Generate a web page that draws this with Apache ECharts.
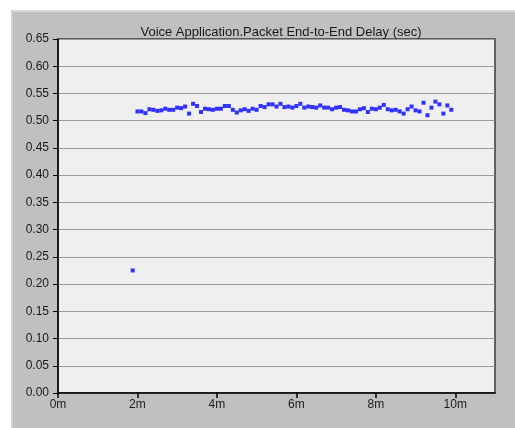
<!DOCTYPE html>
<html>
<head>
<meta charset="utf-8">
<style>
  html, body { margin: 0; padding: 0; background: #ffffff; }
  #chart { width: 515px; height: 428px; }
</style>
<script src="https://cdn.jsdelivr.net/npm/echarts@6/dist/echarts.min.js"></script>
</head>
<body>
<div id="chart"></div>
<script>
// Simulation time (minutes) of each delay sample
const timeMin = [
  1.88,
  2.0, 2.1, 2.2, 2.3, 2.4, 2.5, 2.6, 2.7, 2.8, 2.9,
  3.0, 3.1, 3.2, 3.3, 3.4, 3.5, 3.6, 3.7, 3.8, 3.9,
  4.0, 4.1, 4.2, 4.3, 4.4, 4.5, 4.6, 4.7, 4.8, 4.9,
  5.0, 5.1, 5.2, 5.3, 5.4, 5.5, 5.6, 5.7, 5.8, 5.9,
  6.0, 6.1, 6.2, 6.3, 6.4, 6.5, 6.6, 6.7, 6.8, 6.9,
  7.0, 7.1, 7.2, 7.3, 7.4, 7.5, 7.6, 7.7, 7.8, 7.9,
  8.0, 8.1, 8.2, 8.3, 8.4, 8.5, 8.6, 8.7, 8.8, 8.9,
  9.0, 9.1, 9.2, 9.3, 9.4, 9.5, 9.6, 9.7, 9.8, 9.9
];

// Packet end-to-end delay (seconds)
const delaySec = [
  0.225,
  0.517, 0.517, 0.514, 0.521, 0.520, 0.518, 0.519, 0.522, 0.520, 0.520,
  0.524, 0.523, 0.526, 0.513, 0.531, 0.527, 0.516, 0.522, 0.521, 0.520,
  0.522, 0.522, 0.527, 0.527, 0.520, 0.515, 0.519, 0.521, 0.518, 0.522,
  0.520, 0.527, 0.525, 0.530, 0.530, 0.526, 0.531, 0.525, 0.526, 0.524,
  0.527, 0.531, 0.524, 0.526, 0.525, 0.524, 0.528, 0.524, 0.524, 0.521,
  0.524, 0.525, 0.520, 0.519, 0.517, 0.517, 0.521, 0.523, 0.516, 0.522,
  0.521, 0.524, 0.529, 0.521, 0.519, 0.520, 0.517, 0.513, 0.521, 0.526,
  0.519, 0.517, 0.533, 0.510, 0.524, 0.535, 0.530, 0.513, 0.528, 0.520
];

const xTicks = [0, 2, 4, 6, 8, 10];
const chartTitle = 'Voice Application.Packet End-to-End Delay (sec)';

const points = timeMin.map((t, i) => [t, delaySec[i]]);

const FONT = '"Liberation Sans", Arial, sans-serif';
const chart = echarts.init(document.getElementById('chart'), null, { renderer: 'canvas' });

chart.setOption({
  animation: false,
  backgroundColor: '#ffffff',
  graphic: [
    // grey window panel
    { type: 'rect', z: -10, shape: { x: 11, y: 10, width: 504, height: 418 },
      style: { fill: '#c0c0c0' } },
    { type: 'rect', z: -9, shape: { x: 11, y: 10, width: 504, height: 2 },
      style: { fill: '#d9d9d9' } },
    { type: 'rect', z: -9, shape: { x: 11, y: 10, width: 2, height: 418 },
      style: { fill: '#d0d0d0' } }
  ],
  title: {
    text: chartTitle,
    left: 276,
    textAlign: 'center',
    top: 21,
    textStyle: { fontFamily: FONT, fontSize: 13, fontWeight: 'normal', color: '#1a1a1a' }
  },
  grid: {
    left: 58, right: 20, top: 39, bottom: 35,
    show: true,
    backgroundColor: '#efefef',
    borderColor: '#3a3a3a',
    borderWidth: 1.5
  },
  xAxis: {
    type: 'value',
    min: 0, max: 11, interval: 2,
    axisLine: { show: true, onZero: false, lineStyle: { color: '#000000', width: 1.5 } },
    axisTick: { show: true, length: 5, customValues: xTicks,
      lineStyle: { color: '#000000', width: 1.5 } },
    axisLabel: { customValues: xTicks, formatter: v => v + 'm', margin: 6,
      fontFamily: FONT, fontSize: 12, color: '#1a1a1a' },
    splitLine: { show: false }
  },
  yAxis: {
    type: 'value',
    min: 0, max: 0.65, interval: 0.05,
    axisLine: { show: true, onZero: false, lineStyle: { color: '#000000', width: 1.5 } },
    axisTick: { show: true, length: 5, lineStyle: { color: '#000000', width: 1 } },
    axisLabel: { formatter: v => v.toFixed(2), margin: 9,
      fontFamily: FONT, fontSize: 12, color: '#1a1a1a' },
    splitLine: { show: true, lineStyle: { color: '#9a9a9a', width: 1 } }
  },
  series: [{
    type: 'scatter',
    data: points,
    symbol: 'rect',
    symbolSize: 4,
    itemStyle: { color: '#0000ff' }
  }]
});
</script>
</body>
</html>
